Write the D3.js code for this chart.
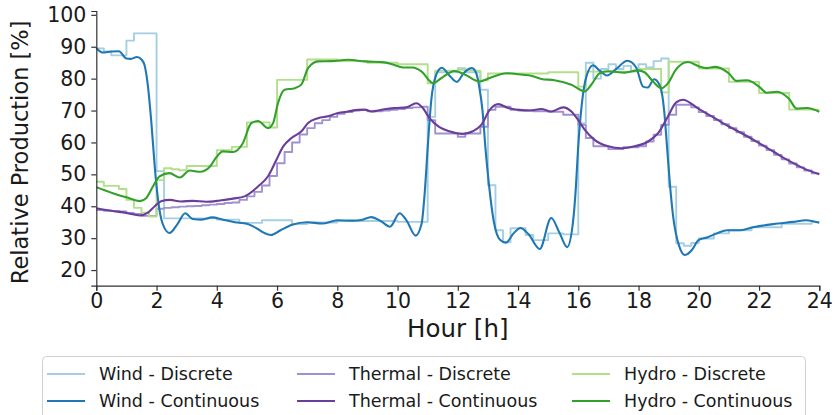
<!DOCTYPE html>
<html>
<head>
<meta charset="utf-8">
<script src="https://cdn.jsdelivr.net/npm/d3@7"></script>
<style>
  html, body { margin: 0; padding: 0; background: #fff; }
  svg { display: block; }
  text { font-family: "DejaVu Sans", sans-serif; fill: #1a1a1a; }
</style>
</head>
<body>
<svg id="chart" width="835" height="415"></svg>
<script>
// Quarter-hour discrete schedules (value held until next quarter hour)
const windDiscrete = [
  89.5, 88.5, 87.3, 87.3,  91.9, 94.2, 94.2, 94.2,
  51.0, 36.2, 36.2, 36.2,  36.2, 36.2, 36.2, 36.2,
  35.8, 35.8, 35.8, 34.8,  34.8, 34.8, 35.6, 35.6,
  35.6, 35.6, 34.4, 34.4,  34.9, 34.9, 34.9, 34.9,
  35.4, 35.4, 35.4, 35.4,  35.4, 35.4, 35.4, 35.4,
  35.1, 35.1, 35.1, 35.1,  68.0, 82.0, 82.0, 82.0,
  83.3, 82.0, 82.0, 76.5,  46.6, 32.5, 28.7, 33.1,
  33.1, 31.0, 29.4, 29.4,  31.5, 31.5, 31.2, 31.2,
  66.0, 85.0, 80.0, 83.0,  84.5, 83.0, 84.0, 82.5,
  84.5, 83.5, 85.5, 86.3,  46.1, 28.4, 27.6, 28.5,
  29.9, 29.9, 31.5, 31.5,  32.5, 32.5, 32.5, 33.4,
  33.4, 33.4, 33.4, 34.5,  34.5, 34.5, 34.5, 35.1
];
const thermalDiscrete = [
  38.8, 38.6, 38.5, 38.4,  37.9, 37.6, 37.0, 37.0,
  39.2, 39.5, 39.7, 39.9,  40.0, 40.1, 40.3, 40.5,
  40.7, 41.0, 41.2, 42.0,  43.1, 44.5, 46.5, 49.5,
  53.5, 57.0, 60.0, 62.5,  64.5, 66.0, 67.0, 68.0,
  69.0, 69.5, 70.0, 70.2,  69.8, 69.8, 70.0, 70.2,
  70.5, 70.8, 71.0, 71.2,  67.0, 62.8, 62.8, 62.8,
  61.8, 62.8, 62.8, 64.9,  70.2, 71.2, 71.2, 70.2,
  70.0, 70.0, 69.8, 69.8,  69.6, 69.6, 68.7, 68.7,
  65.5, 61.4, 58.8, 58.8,  57.9, 57.9, 58.5, 58.5,
  58.8, 60.3, 62.4, 65.5,  68.7, 71.8, 71.8, 71.0,
  69.5, 68.3, 67.0, 65.7,  64.5, 63.2, 61.8, 60.4,
  59.0, 57.6, 56.1, 54.7,  53.4, 52.2, 51.2, 50.3
];
const hydroDiscrete = [
  47.7, 46.4, 46.4, 45.4,  42.0, 39.5, 38.0, 36.8,
  48.2, 51.9, 51.6, 51.3,  52.6, 52.6, 52.6, 52.6,
  57.6, 57.6, 58.6, 58.6,  66.3, 66.3, 66.3, 64.7,
  79.6, 79.6, 79.6, 79.6,  86.0, 86.0, 86.0, 86.0,
  85.5, 85.5, 85.5, 85.5,  85.0, 85.0, 85.0, 85.0,
  84.5, 84.5, 84.5, 84.5,  78.5, 82.5, 82.5, 82.5,
  82.8, 82.5, 82.5, 79.5,  81.6, 81.6, 81.6, 81.6,
  81.6, 81.6, 81.6, 81.6,  82.0, 82.0, 82.0, 82.0,
  77.5, 82.2, 82.2, 82.2,  82.2, 82.2, 82.2, 82.2,
  83.0, 83.0, 83.0, 75.7,  85.3, 85.3, 85.3, 85.3,
  83.2, 83.2, 83.2, 83.2,  79.0, 79.0, 79.0, 79.0,
  75.5, 75.5, 75.5, 75.5,  70.3, 70.3, 70.3, 70.3
];

// Continuous trajectories as [hour, value] knots
const windContinuous = [
  [0, 89.6], [0.2, 88.2], [0.5, 88.5], [0.75, 88.6], [1.0, 86.3], [1.15, 86.2],
  [1.35, 86.8], [1.5, 86.0], [1.6, 84.3], [1.71, 78.0], [1.83, 66.0], [1.94, 52.4],
  [2.05, 42.0], [2.2, 34.6], [2.43, 31.6], [2.7, 34.5], [2.95, 37.8], [3.2, 36.0],
  [3.5, 35.8], [3.85, 36.5], [4.2, 35.8], [4.6, 35.0], [5.0, 34.5], [5.3, 33.2],
  [5.5, 32.0], [5.8, 31.0], [6.1, 32.4], [6.5, 34.2], [7.0, 35.0], [7.5, 34.6],
  [8.0, 35.6], [8.5, 35.5], [8.8, 35.7], [9.13, 36.6], [9.45, 35.3], [9.75, 33.6],
  [10.07, 37.8], [10.3, 35.5], [10.6, 30.8], [10.8, 34.6], [10.9, 44.0], [11.01, 59.7],
  [11.12, 73.3], [11.28, 81.1], [11.47, 83.4], [11.72, 81.0], [11.97, 79.0], [12.2, 81.8],
  [12.47, 83.3], [12.62, 81.5], [12.72, 77.0], [12.82, 70.0], [12.92, 58.0], [13.03, 47.2],
  [13.2, 35.0], [13.4, 29.5], [13.6, 28.6], [13.85, 31.5], [14.08, 33.2], [14.35, 31.2],
  [14.72, 26.6], [15.1, 36.3], [15.38, 31.6], [15.63, 27.2], [15.82, 34.7], [15.92, 46.0],
  [15.99, 57.7], [16.12, 72.3], [16.27, 80.7], [16.49, 84.2], [16.7, 82.6], [16.95, 81.0],
  [17.25, 83.0], [17.63, 85.6], [17.92, 83.5], [18.15, 77.5], [18.3, 77.2], [18.52, 79.8],
  [18.72, 77.5], [18.85, 70.0], [18.95, 58.0], [19.05, 46.0], [19.15, 36.7], [19.35, 27.5],
  [19.54, 24.7], [19.77, 26.3], [19.99, 29.4], [20.27, 30.2], [20.6, 31.5], [20.94, 32.5],
  [21.38, 32.5], [21.8, 33.4], [22.47, 34.4], [23.13, 35.1], [23.57, 35.6], [24, 34.8]
];
const thermalContinuous = [
  [0, 39.4], [0.55, 38.5], [1.0, 37.9], [1.45, 37.1], [1.7, 37.9], [1.94, 40.0],
  [2.15, 41.6], [2.45, 42.0], [2.8, 41.5], [3.2, 41.7], [3.65, 41.4], [4.1, 41.8],
  [4.54, 42.4], [4.92, 43.1], [5.37, 46.2], [5.7, 49.4], [5.98, 54.6], [6.2, 58.7],
  [6.48, 61.4], [6.81, 63.5], [7.03, 66.1], [7.36, 67.6], [7.69, 68.2], [8.02, 69.2],
  [8.36, 69.7], [8.69, 70.2], [8.91, 70.3], [9.13, 69.7], [9.35, 70.0], [9.62, 70.5],
  [9.96, 70.8], [10.29, 71.0], [10.62, 72.3], [10.84, 70.8], [11.06, 67.6], [11.39, 64.8],
  [11.72, 63.5], [12.17, 62.7], [12.5, 63.5], [12.78, 65.5], [13.06, 70.2], [13.34, 72.0],
  [13.67, 70.8], [14.05, 70.2], [14.4, 70.0], [14.77, 70.5], [15.1, 69.7], [15.5, 71.0],
  [15.77, 69.7], [15.99, 67.1], [16.21, 64.0], [16.54, 60.8], [16.99, 58.8], [17.43, 58.2],
  [17.87, 58.8], [18.32, 60.3], [18.65, 62.9], [18.98, 68.2], [19.24, 72.5], [19.47, 73.4],
  [20.0, 70.5], [20.5, 67.8], [21.0, 65.0], [21.5, 62.5], [22.0, 59.8], [22.5, 57.0],
  [23.0, 54.2], [23.5, 51.8], [24, 50.0]
];
const hydroContinuous = [
  [0, 46.0], [0.55, 44.1], [1.0, 42.8], [1.45, 41.6], [1.66, 42.6], [1.88, 46.2],
  [2.1, 49.4], [2.43, 50.4], [2.77, 49.0], [3.1, 51.2], [3.45, 50.8], [3.76, 52.3],
  [3.98, 55.3], [4.2, 57.2], [4.54, 57.0], [4.85, 59.5], [5.15, 66.1], [5.37, 66.7],
  [5.7, 64.5], [5.87, 66.1], [6.03, 72.3], [6.25, 76.5], [6.59, 77.0], [6.81, 78.2],
  [7.03, 83.3], [7.36, 85.4], [7.81, 85.5], [8.36, 85.9], [8.91, 85.4], [9.57, 85.1],
  [9.85, 84.4], [10.18, 83.5], [10.5, 83.5], [10.79, 82.3], [11.18, 78.6], [11.5, 80.5],
  [11.89, 82.4], [12.23, 81.3], [12.72, 79.1], [13.06, 80.2], [13.61, 81.7], [14.16, 81.2],
  [14.43, 80.9], [14.77, 79.9], [15.21, 79.5], [15.77, 78.1], [16.21, 76.0], [16.43, 78.1],
  [16.71, 81.7], [16.99, 82.3], [17.54, 81.9], [17.98, 82.6], [18.2, 82.0], [18.48, 79.1],
  [18.76, 77.0], [18.98, 78.6], [19.24, 82.8], [19.64, 85.2], [20.02, 83.8], [20.24, 83.3],
  [20.55, 83.7], [21.0, 81.6], [21.25, 79.3], [21.6, 79.5], [22.0, 77.5], [22.25, 75.6],
  [22.6, 75.9], [23.0, 73.6], [23.25, 70.6], [23.6, 70.8], [24, 69.6]
];

const xTicks = [0, 2, 4, 6, 8, 10, 12, 14, 16, 18, 20, 22, 24];
const yTicks = [20, 30, 40, 50, 60, 70, 80, 90, 100];

const series = [
  { label: "Wind - Discrete",       kind: "discrete",   data: windDiscrete,       color: "#a6cee3" },
  { label: "Wind - Continuous",     kind: "continuous", data: windContinuous,     color: "#1f78b4" },
  { label: "Thermal - Discrete",    kind: "discrete",   data: thermalDiscrete,    color: "#9e92d0" },
  { label: "Thermal - Continuous",  kind: "continuous", data: thermalContinuous,  color: "#6a3d9a" },
  { label: "Hydro - Discrete",      kind: "discrete",   data: hydroDiscrete,      color: "#b2df8a" },
  { label: "Hydro - Continuous",    kind: "continuous", data: hydroContinuous,    color: "#33a02c" }
];

const svg = d3.select("#chart");
const plot = { left: 96.3, right: 819.3, top: 11, bottom: 285.7 };

const x = d3.scaleLinear().domain([0, 24]).range([plot.left, plot.right]);
const y = d3.scaleLinear().domain([15.1, 101.2]).range([plot.bottom, plot.top]);

// Discrete schedules: step after each quarter hour, closed at hour 24
const stepLine = d3.line()
  .x(d => x(d[0])).y(d => y(d[1]))
  .curve(d3.curveStepAfter);
const smoothLine = d3.line()
  .x(d => x(d[0])).y(d => y(d[1]))
  .curve(d3.curveMonotoneX);

const linesG = svg.append("g");
// Discrete schedules underneath, continuous trajectories on top
["discrete", "continuous"].forEach(kind => {
  series.filter(s => s.kind === kind).forEach(s => {
    let pts;
    if (kind === "discrete") {
      pts = s.data.map((v, i) => [i * 0.25, v]);
      pts.push([24, s.data[s.data.length - 1]]);
    } else {
      pts = s.data;
    }
    linesG.append("path")
      .attr("d", kind === "discrete" ? stepLine(pts) : smoothLine(pts))
      .attr("fill", "none")
      .attr("stroke", s.color)
      .attr("stroke-width", kind === "discrete" ? 1.9 : 2.1)
      .attr("stroke-linejoin", "round");
  });
});

// Axes
const xAxis = d3.axisBottom(x).tickValues(xTicks).tickSize(5).tickPadding(3)
  .tickFormat(d3.format("d"));
const yAxis = d3.axisLeft(y).tickValues(yTicks).tickSize(5).tickPadding(5)
  .tickFormat(d3.format("d"));

const gx = svg.append("g").attr("transform", `translate(0,${plot.bottom})`).call(xAxis);
const gy = svg.append("g").attr("transform", `translate(${plot.left},0)`).call(yAxis);
[gx, gy].forEach(g => {
  g.select(".domain").attr("stroke", "#333").attr("stroke-width", 1.2);
  g.selectAll(".tick line").attr("stroke", "#333").attr("stroke-width", 1.2);
  g.selectAll(".tick text")
    .style("font-family", "'DejaVu Sans', sans-serif")
    .style("font-size", "20.5px").attr("fill", "#1a1a1a");
});

svg.append("text")
  .attr("x", (plot.left + plot.right) / 2).attr("y", 337)
  .attr("text-anchor", "middle")
  .style("font-size", "24.5px")
  .text("Hour [h]");

svg.append("text")
  .attr("transform", `translate(28,${(plot.top + plot.bottom) / 2 + 4}) rotate(-90)`)
  .attr("text-anchor", "middle")
  .style("font-size", "22.5px")
  .text("Relative Production [%]");

// Legend
const legend = svg.append("g");
legend.append("rect")
  .attr("x", 42.5).attr("y", 356.5).attr("width", 763).attr("height", 70)
  .attr("rx", 4).attr("fill", "#fff").attr("stroke", "#d0d0d0").attr("stroke-width", 1);
const colX = [47, 297, 572];
const rowY = [374, 401];
series.forEach((s, i) => {
  const cx = colX[Math.floor(i / 2)];
  const cy = rowY[i % 2];
  legend.append("line")
    .attr("x1", cx).attr("x2", cx + 38).attr("y1", cy).attr("y2", cy)
    .attr("stroke", s.color).attr("stroke-width", 2);
  legend.append("text")
    .attr("x", cx + 52).attr("y", cy).attr("dy", "0.36em")
    .style("font-family", "'DejaVu Sans', sans-serif")
    .style("font-size", "17.5px")
    .text(s.label);
});
</script>
</body>
</html>
